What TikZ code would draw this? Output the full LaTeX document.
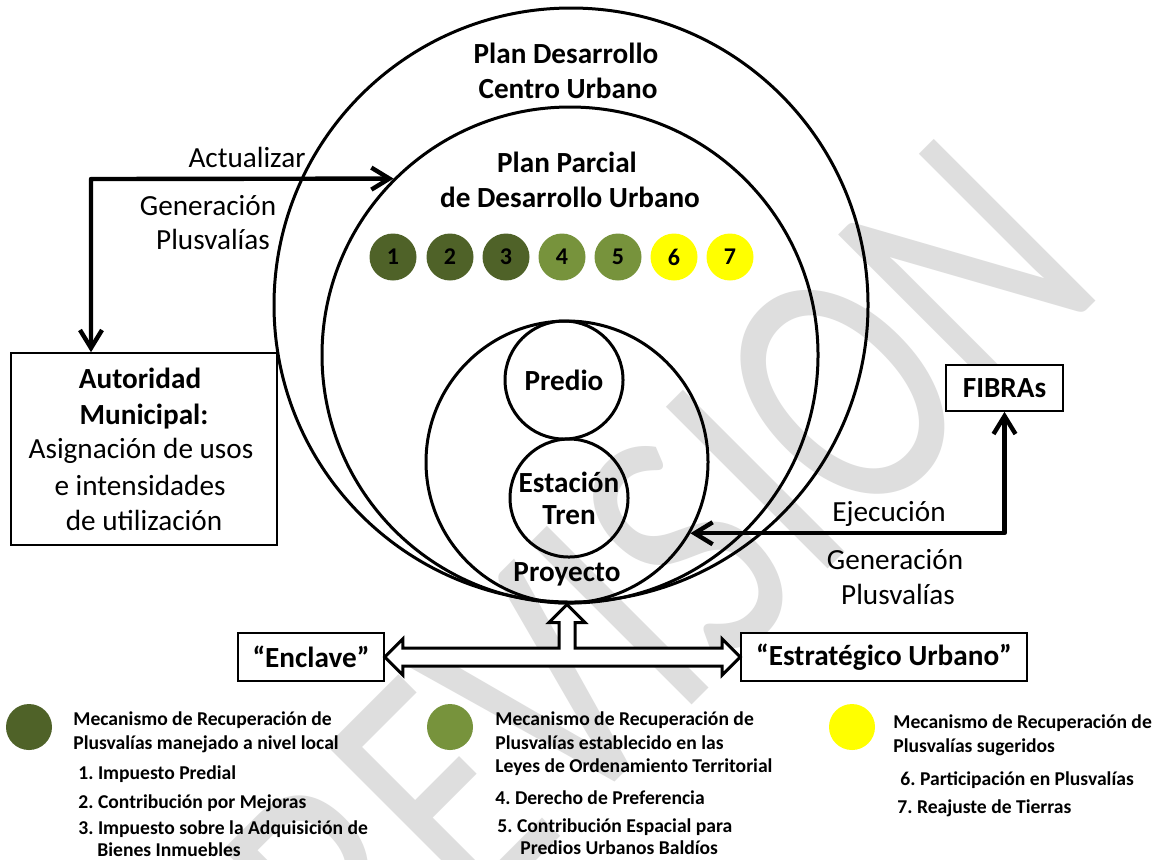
\documentclass[tikz,border=0pt]{standalone}
\usepackage{fontspec}
\setmainfont{Carlito}
\frenchspacing
\usetikzlibrary{arrows.meta,calc}
\definecolor{olivedk}{HTML}{4F6228}
\definecolor{olivemd}{HTML}{77933C}
\definecolor{yel}{HTML}{FFFF00}
\definecolor{wmgray}{HTML}{DEDEDE}
\begin{document}
\begin{tikzpicture}[x=0.5pt,y=-0.5pt,
  ring/.style={draw, circle, line width=1.5pt, inner sep=0pt},
  main/.style={font=\fontsize{14.6}{17}\selectfont, inner sep=0pt, anchor=base},
  mainb/.style={font=\fontsize{14.6}{17}\selectfont\bfseries, inner sep=0pt, anchor=base},
  box/.style={draw, line width=0.8pt, fill=white, inner sep=0pt},
  dot/.style={circle, inner sep=0pt, minimum size=23.5pt, font=\fontsize{12}{14}\selectfont\bfseries},
  legdot/.style={circle, inner sep=0pt, minimum size=23pt},
  leg/.style={font=\fontsize{9.8}{12}\selectfont\bfseries, inner sep=0pt, anchor=base west},
  conn/.style={line width=2.2pt, line join=round, {Straight Barb[length=9pt,width=11pt]}-{Straight Barb[length=9pt,width=11pt]}},
  blockarrow/.style={draw, fill=white, line width=1.5pt, line join=miter}
]
\useasboundingbox (0,0) rectangle (1159,859);
\fill[white] (0,0) rectangle (1159,859);

% watermark
\node[font=\fontsize{135}{135}\selectfont, text=wmgray, inner sep=0pt,
      rotate=45, yscale=1.32, transform shape] (wm) at (660,575) {REVISION};

% nested circles
\node[ring, minimum size=297pt] (pdu) at (571,305) {};
\node[ring, minimum size=248pt] (ppdu) at (570,355) {};
\node[ring, minimum size=141pt] (proy) at (567,462) {};
\node[ring, minimum size=59pt, font=\fontsize{14.6}{17}\selectfont\bfseries] (pred) at (564,380) {Predio};
\node[ring, minimum size=59pt, align=center, font=\fontsize{14.6}{16}\selectfont\bfseries] (esta) at (569,498) {Estación\\Tren};

% titles
\node[mainb] (t1) at (566,63) {Plan Desarrollo};
\node[mainb] (t2) at (568,98) {Centro Urbano};
\node[mainb] (t3) at (567,172) {Plan Parcial};
\node[mainb] (t4) at (570,207) {de Desarrollo Urbano};
\node[mainb] (prt) at (567,581) {Proyecto};

% small numbered circles
\node[dot, fill=olivedk] (m1) at (393,257) {1};
\node[dot, fill=olivedk] (m2) at (450,257) {2};
\node[dot, fill=olivedk] (m3) at (506,257) {3};
\node[dot, fill=olivemd] (m4) at (562,257) {4};
\node[dot, fill=olivemd] (m5) at (618,257) {5};
\node[dot, fill=yel] (m6) at (674,257) {6};
\node[dot, fill=yel] (m7) at (730,257) {7};

% left side
\node[box, minimum width=133pt, minimum height=96pt] (aut) at (144,449) {};
\node[mainb] (a1) at (140,388) {Autoridad};
\node[mainb] (a2) at (144,424) {Municipal:};
\node[main] (a3) at (141,458) {Asignación de usos};
\node[main] (a4) at (140,495) {e intensidades};
\node[main] (a5) at (144,530) {de utilización};
\node[main] (act) at (247,167) {Actualizar};
\node[main] (gen1) at (208,215) {Generación};
\node[main] (plu1) at (213,249) {Plusvalías};
\coordinate (k1) at (91,179);
\draw[conn] (k1 |- aut.north) -- (k1) -- (ppdu.135);

% right side
\node[box, minimum width=58.5pt, minimum height=23pt, font=\fontsize{14.6}{17}\selectfont\bfseries] (fib) at (1004.5,388) {FIBRAs};
\node[main] (eje) at (889,521) {Ejecución};
\node[main] (gen2) at (895,569) {Generación};
\node[main] (plu2) at (898,604) {Plusvalías};
\draw[conn] (fib.south) |- (proy.-30.5);

% bottom boxes and block arrow
\node[box, minimum width=73pt, minimum height=24pt, font=\fontsize{14.6}{17}\selectfont\bfseries] (enc) at (311,657) {“Enclave”};
\node[box, minimum width=143pt, minimum height=24pt, font=\fontsize{14.6}{17}\selectfont\bfseries] (estu) at (884,657) {“Estratégico Urbano”};
\path (enc.east) coordinate (lt) (estu.west) coordinate (rt) (proy.south) coordinate (tp);
\draw[blockarrow] (lt) -- ++(18,-18) -- ++(0,9) -- ($(tp|-lt)+(-8,-9)$) -- ($(tp)+(-8,18)$) -- ($(tp)+(-18,18)$) -- (tp)
  -- ($(tp)+(18,18)$) -- ($(tp)+(8,18)$) -- ($(tp|-lt)+(8,-9)$) -- ($(rt)+(-18,-9)$) -- ++(0,-9) -- (rt)
  -- ++(-18,18) -- ++(0,-9) -- ($(lt)+(18,9)$) -- ++(0,9) -- cycle;

% legend
\node[legdot, fill=olivedk] (l1) at (29,727) {};
\node[legdot, fill=olivemd] (l2) at (450,727) {};
\node[legdot, fill=yel] (l3) at (852,727) {};

\node[leg] (c1a) at (73,725.5) {Mecanismo de Recuperación de};
\node[leg] (c1b) at (73,749.5) {Plusvalías manejado a nivel local};
\node[leg] (c1c) at (78,779.5) {1. Impuesto Predial};
\node[leg] (c1d) at (78,808.5) {2. Contribución por Mejoras};
\node[leg] (c1e) at (78,834.5) {3. Impuesto sobre la Adquisición de};
\node[leg] (c1f) at (97,856.5) {Bienes Inmuebles};

\node[leg] (c2a) at (495,725.5) {Mecanismo de Recuperación de};
\node[leg] (c2b) at (495,749.5) {Plusvalías establecido en las};
\node[leg] (c2c) at (495,772.5) {Leyes de Ordenamiento Territorial};
\node[leg] (c2d) at (495,804.5) {4. Derecho de Preferencia};
\node[leg] (c2e) at (497,832.5) {5. Contribución Espacial para};
\node[leg] (c2f) at (520,854.5) {Predios Urbanos Baldíos};

\node[leg] (c3a) at (893,728.5) {Mecanismo de Recuperación de};
\node[leg] (c3b) at (893,752.5) {Plusvalías sugeridos};
\node[leg] (c3c) at (900,785.5) {6. Participación en Plusvalías};
\node[leg] (c3d) at (897,813.5) {7. Reajuste de Tierras};
\end{tikzpicture}
\end{document}
